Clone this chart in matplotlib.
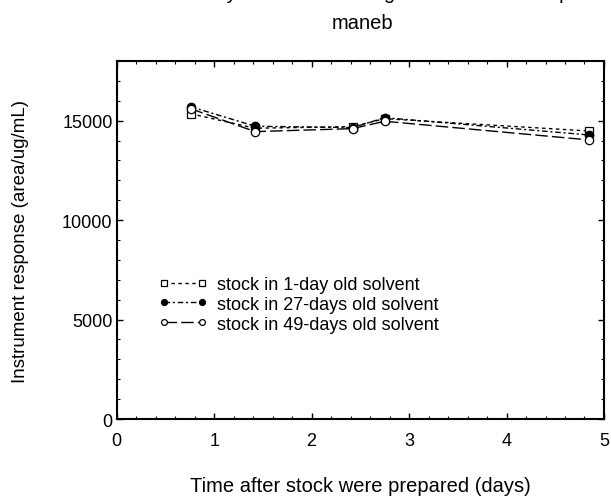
import matplotlib
matplotlib.use("Agg")
import matplotlib.pyplot as plt
from matplotlib.ticker import MultipleLocator

plt.rcParams['font.family'] = ['Liberation Sans', 'DejaVu Sans']

# sampling days after the stock solutions were prepared
days = [0.76, 1.42, 2.42, 2.75, 4.85]

# instrument response per stock age
resp_1day = [15350, 14620, 14700, 15100, 14480]
resp_27days = [15700, 14720, 14650, 15150, 14280]
resp_49days = [15600, 14450, 14600, 14970, 14030]

labels = ["stock in 1-day old solvent",
          "stock in 27-days old solvent",
          "stock in 49-days old solvent"]

fig = plt.figure(figsize=(6.11, 5.02), dpi=100)
ax = fig.add_axes([0.191, 0.1633, 0.7975, 0.7132])

ax.plot(days, resp_1day, linestyle=(0, (2.5, 2.5)), color="black", lw=1,
        marker="s", markersize=5.5, markerfacecolor="white", markeredgewidth=0.9,
        label=labels[0])
ax.plot(days, resp_27days, linestyle=(0, (4, 2, 1.5, 2)), color="black", lw=1,
        marker="o", markersize=6, markerfacecolor="black",
        label=labels[1])
ax.plot(days, resp_49days, linestyle=(0, (9, 3)), color="black", lw=1,
        marker="o", markersize=6, markerfacecolor="white", markeredgewidth=0.9,
        label=labels[2])

ax.set_xlim(0, 5)
ax.set_ylim(0, 18000)
ax.set_xticks([0, 1, 2, 3, 4, 5])
ax.set_yticks([0, 5000, 10000, 15000])
ax.xaxis.set_minor_locator(MultipleLocator(0.2))
ax.yaxis.set_minor_locator(MultipleLocator(1000))
ax.tick_params(which="both", direction="in", top=True, right=True, labelsize=13)
ax.tick_params(axis="x", pad=9)
ax.tick_params(axis="y", pad=3)
ax.tick_params(which="major", length=4, width=1)
ax.tick_params(which="minor", length=2, width=0.8)
for sp in ax.spines.values():
    sp.set_linewidth(1.5)

ax.set_xlabel("Time after stock were prepared (days)", fontsize=14.5, labelpad=20)
ax.set_ylabel("Instrument response (area/ug/mL)", fontsize=13.5, labelpad=24)

# two-line heading; the first line sits mostly above the figure edge
fig.text(0.607, 1.012, "Stability of the stock in aged solvents at temp.",
         ha="center", va="center", fontsize=14.5)
fig.text(0.5925, 0.953, "maneb", ha="center", va="center", fontsize=14.5)

ax.legend(loc="upper left", bbox_to_anchor=(0.072, 0.42), frameon=False,
          numpoints=2, handlelength=2.7, handletextpad=0.5, labelspacing=0.16,
          fontsize=13, markerscale=0.7, borderaxespad=0)

fig.savefig("out.png", dpi=100)
